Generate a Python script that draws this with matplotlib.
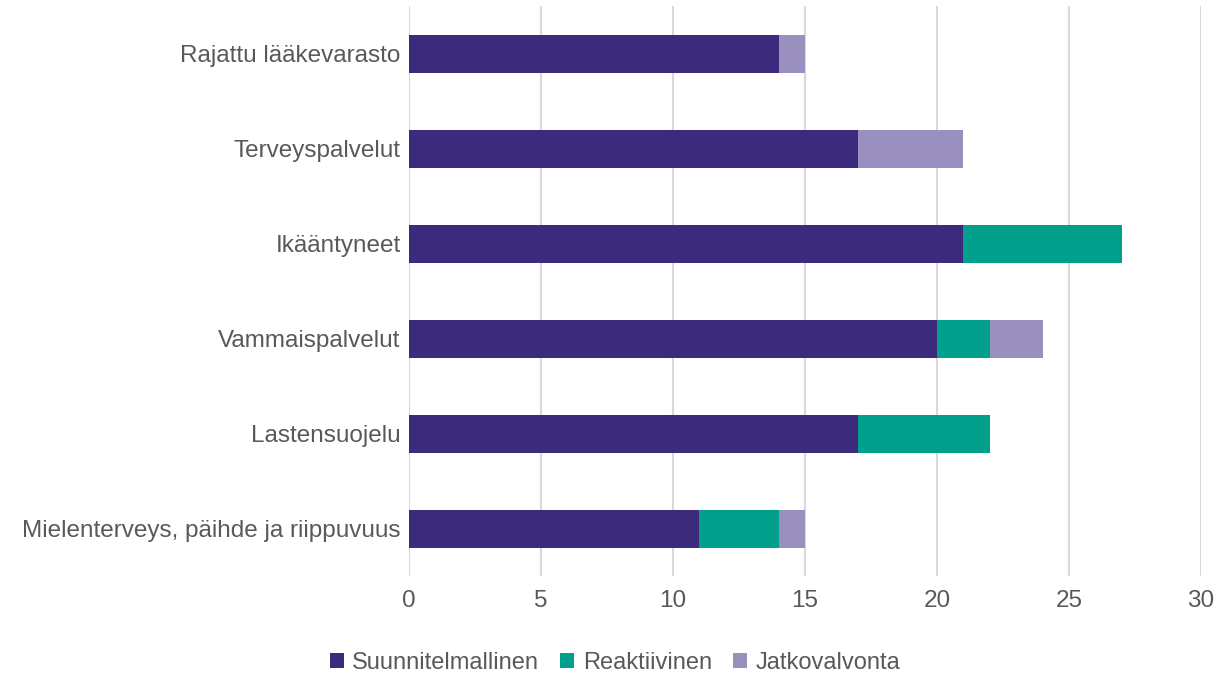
import matplotlib.pyplot as plt
import numpy as np

plt.rcParams['font.family'] = ['Liberation Sans', 'DejaVu Sans']

kategoriat = ["Rajattu lääkevarasto", "Terveyspalvelut", "Ikääntyneet",
              "Vammaispalvelut", "Lastensuojelu", "Mielenterveys, päihde ja riippuvuus"]
suunnitelmallinen = [14, 17, 21, 20, 17, 11]
reaktiivinen = [0, 0, 6, 2, 5, 3]
jatkovalvonta = [1, 4, 0, 2, 0, 1]

sarjat = ["Suunnitelmallinen", "Reaktiivinen", "Jatkovalvonta"]
varit = ["#3c2a7c", "#00a08c", "#9a90c0"]
tekstivari = "#595959"

fig = plt.figure(figsize=(12.2, 6.76), dpi=100)
ax = fig.add_axes([0.3352, 0.1472, 0.6492, 0.8432])

y = np.arange(len(kategoriat))
vasen = np.zeros(len(kategoriat))
for nimi, arvot, vari in zip(sarjat, [suunnitelmallinen, reaktiivinen, jatkovalvonta], varit):
    ax.barh(y, arvot, left=vasen, height=0.4, color=vari, label=nimi, zorder=3)
    vasen += np.array(arvot)

ax.set_xlim(0, 30)
ax.set_ylim(len(kategoriat) - 0.5, -0.5)
ax.set_xticks(range(0, 31, 5))
ax.set_yticks(y)
ax.set_yticklabels(kategoriat)
ax.tick_params(length=0, labelsize=17.5, labelcolor=tekstivari)
ax.tick_params(axis='x', pad=10)
ax.tick_params(axis='y', pad=6)
ax.grid(axis='x', color='#d9d9d9', linewidth=1.5, zorder=0)
for s in ax.spines.values():
    s.set_visible(False)

ax.legend(loc='center', bbox_to_anchor=(0.504, 0.019), bbox_transform=fig.transFigure,
          ncol=3, frameon=False, fontsize=17, labelcolor=tekstivari,
          handlelength=0.6, handleheight=0.6, handletextpad=0.35, columnspacing=0.9)

fig.savefig("out.png", dpi=100)
